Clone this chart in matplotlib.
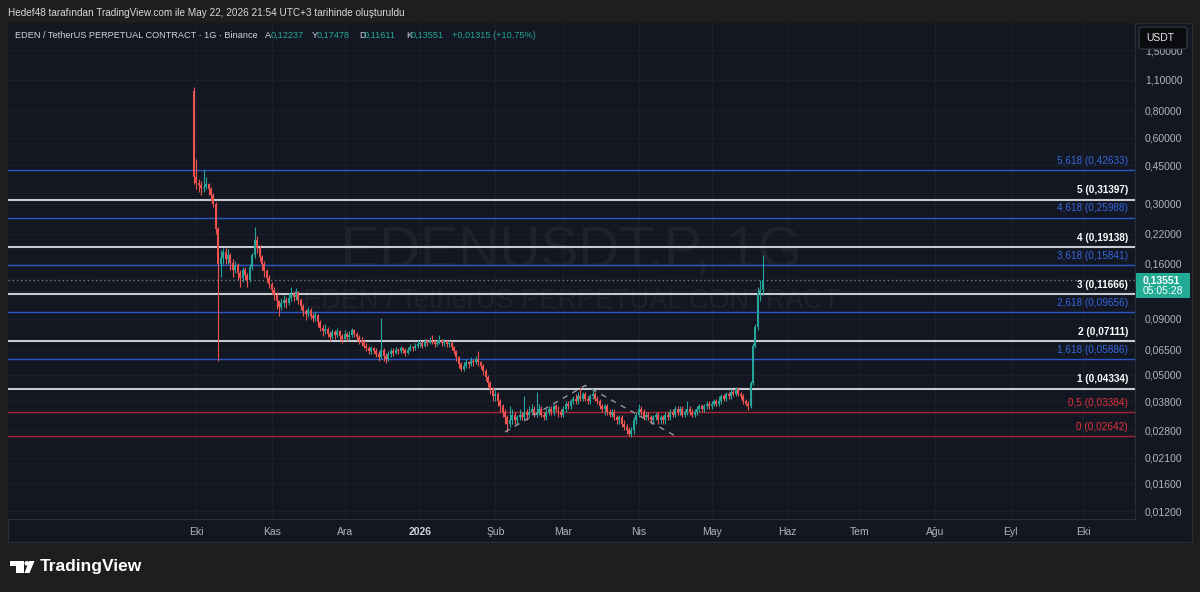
import matplotlib
matplotlib.use('Agg')
import matplotlib.pyplot as plt
import matplotlib.patches as mpatches
from matplotlib.ticker import NullLocator
import numpy as np

plt.rcParams['font.family'] = ['Liberation Sans', 'DejaVu Sans']

W, H = 1200, 592

# daily candles, day 0 = 2025-09-30, last = 2026-05-22 (open = previous close)
first_open = 0.98
closes = [
    0.400,
    # Eki
    0.375, 0.365, 0.355, 0.360, 0.370, 0.350, 0.330, 0.300, 0.230, 0.160, 0.170, 0.182, 0.168, 0.175, 0.162, 0.150,
    0.158, 0.145, 0.138, 0.150, 0.142, 0.135, 0.155, 0.175, 0.205, 0.190, 0.172, 0.160, 0.148, 0.138, 0.130,
    # Kas
    0.122, 0.116, 0.108, 0.102, 0.106, 0.110, 0.106, 0.112, 0.117, 0.113, 0.119, 0.110, 0.103, 0.098, 0.095,
    0.099, 0.093, 0.091, 0.094, 0.087, 0.082, 0.079, 0.081, 0.077, 0.074, 0.078, 0.076, 0.079, 0.075, 0.073,
    # Ara
    0.077, 0.074, 0.076, 0.080, 0.077, 0.074, 0.072, 0.070, 0.068, 0.066, 0.064, 0.066, 0.064, 0.062, 0.060, 0.065,
    0.061, 0.059, 0.062, 0.064, 0.063, 0.065, 0.064, 0.066, 0.065, 0.063, 0.065, 0.067, 0.066, 0.068, 0.069,
    # Oca
    0.070, 0.068, 0.071, 0.070, 0.072, 0.071, 0.069, 0.070, 0.072, 0.070, 0.071, 0.069, 0.070, 0.067, 0.064, 0.060,
    0.056, 0.053, 0.055, 0.057, 0.056, 0.058, 0.057, 0.059, 0.057, 0.055, 0.052, 0.049, 0.046, 0.043, 0.040,
    # Şub
    0.041, 0.038, 0.036, 0.034, 0.032, 0.030, 0.031, 0.033, 0.031, 0.032, 0.033, 0.032, 0.034, 0.033,
    0.034, 0.035, 0.033, 0.034, 0.035, 0.033, 0.032, 0.034, 0.035, 0.034, 0.036, 0.035, 0.034, 0.033,
    # Mar
    0.035, 0.037, 0.036, 0.038, 0.039, 0.038, 0.040, 0.039, 0.041, 0.039, 0.038, 0.040, 0.041, 0.039, 0.038, 0.036,
    0.035, 0.036, 0.034, 0.033, 0.034, 0.032, 0.031, 0.032, 0.030, 0.029, 0.028, 0.027, 0.028, 0.031, 0.033,
    # Nis
    0.035, 0.034, 0.032, 0.033, 0.032, 0.031, 0.032, 0.033, 0.031, 0.032, 0.031, 0.033, 0.032, 0.034, 0.033,
    0.035, 0.034, 0.035, 0.033, 0.034, 0.035, 0.034, 0.033, 0.034, 0.035, 0.036, 0.035, 0.036, 0.037, 0.036,
    # May
    0.037, 0.038, 0.037, 0.038, 0.040, 0.039, 0.041, 0.040, 0.042, 0.041, 0.043,
    0.041, 0.040, 0.038, 0.037, 0.036, 0.046, 0.068, 0.083, 0.118, 0.12237, 0.13551,
]
highs = [
    1.02,
    0.48, 0.39, 0.38, 0.43, 0.40, 0.375, 0.36, 0.335, 0.305, 0.235, 0.185, 0.19, 0.19, 0.188, 0.18, 0.168,
    0.165, 0.162, 0.15, 0.155, 0.155, 0.146, 0.16, 0.18, 0.235, 0.215, 0.195, 0.176, 0.165, 0.152, 0.142,
    0.133, 0.126, 0.119, 0.110, 0.112, 0.115, 0.113, 0.118, 0.125, 0.121, 0.124, 0.121, 0.112, 0.105, 0.100,
    0.102, 0.101, 0.096, 0.098, 0.095, 0.089, 0.084, 0.085, 0.083, 0.079, 0.081, 0.080, 0.082, 0.080, 0.077,
    0.080, 0.078, 0.079, 0.082, 0.081, 0.078, 0.076, 0.074, 0.072, 0.070, 0.068, 0.068, 0.067, 0.066, 0.064, 0.091,
    0.066, 0.063, 0.064, 0.066, 0.066, 0.067, 0.066, 0.068, 0.067, 0.066, 0.067, 0.069, 0.068, 0.070, 0.072,
    0.072, 0.071, 0.073, 0.073, 0.074, 0.076, 0.073, 0.072, 0.076, 0.073, 0.073, 0.072, 0.072, 0.071, 0.068, 0.065,
    0.061, 0.057, 0.057, 0.059, 0.058, 0.060, 0.059, 0.061, 0.064, 0.058, 0.056, 0.053, 0.050, 0.047, 0.044,
    0.043, 0.042, 0.039, 0.037, 0.035, 0.033, 0.036, 0.035, 0.034, 0.033, 0.035, 0.034, 0.040, 0.035,
    0.036, 0.037, 0.036, 0.042, 0.037, 0.036, 0.034, 0.035, 0.036, 0.036, 0.037, 0.037, 0.036, 0.035,
    0.036, 0.038, 0.038, 0.039, 0.040, 0.041, 0.042, 0.044, 0.042, 0.042, 0.040, 0.041, 0.043, 0.042, 0.040, 0.039,
    0.037, 0.037, 0.037, 0.035, 0.035, 0.035, 0.033, 0.033, 0.033, 0.031, 0.030, 0.029, 0.029, 0.032, 0.034,
    0.037, 0.036, 0.035, 0.034, 0.034, 0.033, 0.033, 0.034, 0.034, 0.033, 0.033, 0.034, 0.034, 0.035, 0.035,
    0.036, 0.036, 0.036, 0.036, 0.035, 0.038, 0.036, 0.035, 0.035, 0.036, 0.037, 0.037, 0.037, 0.038, 0.038,
    0.038, 0.039, 0.039, 0.040, 0.041, 0.041, 0.042, 0.042, 0.043, 0.043, 0.044,
    0.044, 0.042, 0.041, 0.039, 0.038, 0.047, 0.070, 0.085, 0.125, 0.135, 0.17478,
]
lows = [
    0.37,
    0.35, 0.34, 0.33, 0.34, 0.35, 0.33, 0.31, 0.29, 0.22, 0.058, 0.14, 0.16, 0.16, 0.16, 0.15, 0.14,
    0.145, 0.135, 0.125, 0.132, 0.135, 0.126, 0.132, 0.15, 0.17, 0.18, 0.165, 0.15, 0.14, 0.132, 0.124,
    0.117, 0.110, 0.100, 0.0925, 0.099, 0.102, 0.101, 0.104, 0.108, 0.108, 0.110, 0.105, 0.099, 0.093, 0.089,
    0.092, 0.090, 0.087, 0.088, 0.083, 0.079, 0.075, 0.077, 0.074, 0.071, 0.073, 0.073, 0.074, 0.072, 0.070,
    0.072, 0.071, 0.072, 0.074, 0.074, 0.071, 0.069, 0.068, 0.066, 0.064, 0.062, 0.062, 0.062, 0.060, 0.058, 0.059,
    0.058, 0.0565, 0.058, 0.060, 0.061, 0.062, 0.062, 0.063, 0.063, 0.061, 0.062, 0.064, 0.064, 0.065, 0.066,
    0.067, 0.066, 0.067, 0.068, 0.069, 0.069, 0.067, 0.068, 0.069, 0.068, 0.068, 0.067, 0.067, 0.065, 0.062, 0.058,
    0.054, 0.052, 0.052, 0.054, 0.054, 0.055, 0.055, 0.056, 0.055, 0.053, 0.050, 0.047, 0.044, 0.041, 0.038,
    0.038, 0.036, 0.034, 0.032, 0.030, 0.0275, 0.029, 0.030, 0.030, 0.030, 0.031, 0.031, 0.031, 0.031,
    0.032, 0.033, 0.032, 0.032, 0.033, 0.032, 0.031, 0.031, 0.033, 0.033, 0.033, 0.034, 0.032, 0.032,
    0.032, 0.034, 0.035, 0.035, 0.037, 0.037, 0.037, 0.038, 0.038, 0.038, 0.037, 0.037, 0.039, 0.038, 0.037, 0.035,
    0.034, 0.033, 0.033, 0.032, 0.032, 0.031, 0.030, 0.030, 0.029, 0.028, 0.027, 0.0263, 0.0262, 0.027, 0.030,
    0.032, 0.033, 0.031, 0.031, 0.031, 0.030, 0.030, 0.031, 0.030, 0.030, 0.030, 0.030, 0.031, 0.031, 0.032,
    0.032, 0.033, 0.033, 0.032, 0.032, 0.033, 0.033, 0.032, 0.032, 0.033, 0.034, 0.034, 0.034, 0.035, 0.035,
    0.035, 0.036, 0.036, 0.036, 0.037, 0.038, 0.038, 0.039, 0.039, 0.040, 0.040,
    0.040, 0.039, 0.037, 0.036, 0.0345, 0.0355, 0.045, 0.066, 0.080, 0.108, 0.11611,
]

# fibonacci extension levels
fib_names = ['0', '0,5', '1', '1,618', '2', '2,618', '3', '3,618', '4', '4,618', '5', '5,618']
fib_prices = [0.02642, 0.03384, 0.04334, 0.05886, 0.07111, 0.09656, 0.11666, 0.15841, 0.19138,
              0.25988, 0.31397, 0.42633]
fib_kind = ['r', 'r', 'w', 'b', 'w', 'b', 'w', 'b', 'w', 'b', 'w', 'b']

# dashed pattern drawing (day index, price)
zig_days = [128, 161, 198]
zig_prices = [0.0275, 0.0448, 0.0264]

# axes ticks
month_days = [1, 32, 62, 93, 124, 152, 183, 213, 244, 274, 305, 336, 366]
month_names = ['Eki', 'Kas', 'Ara', '2026', 'Şub', 'Mar', 'Nis', 'May', 'Haz', 'Tem', 'Ağu', 'Eyl', 'Eki']
price_ticks = [0.012, 0.016, 0.021, 0.028, 0.038, 0.05, 0.065, 0.09, 0.12, 0.16, 0.22, 0.30, 0.45, 0.60, 0.80, 1.10, 1.50]

last_price = 0.13551

BG = '#131722'
OUTER = '#1e1e1e'
GRID = '#1b1f2a'
TXT = '#b2b5be'
UP = '#26a69a'
DN = '#ef5350'
WM = '#1e222d'


def fx(x):
    return x / W


def fy(y):
    return 1 - y / H


fig = plt.figure(figsize=(12, 5.92), dpi=100, facecolor=OUTER)
panel = mpatches.Rectangle((fx(8), fy(542)), (1192 - 8) / W, (542 - 23) / H,
                           transform=fig.transFigure, facecolor=BG,
                           edgecolor='#2a2e39', lw=0.8, zorder=-5)
fig.patches.append(panel)

ax = fig.add_axes([fx(8), fy(519), 1127 / W, 496 / H])
ax.set_zorder(1)
ax.set_facecolor(BG)
ax.set_yscale('log')
ax.set_ylim(0.01104, 1.999)
ax.set_xlim(-76.5, 387.2)

closes = np.array(closes)
highs = np.array(highs)
lows = np.array(lows)
opens = np.concatenate([[first_open], closes[:-1]])
days = np.arange(len(closes))
cols = [UP if c >= o else DN for o, c in zip(opens, closes)]
body_lo = np.minimum(opens, closes)
body_hi = np.maximum(opens, closes)

ax.vlines(days, lows, highs, colors=cols, lw=0.8, zorder=4)
ax.bar(days, body_hi - body_lo, bottom=body_lo, width=0.82, color=cols, linewidth=0, zorder=5)

# fib lines and labels
line_col = {'r': '#a3252f', 'w': '#c9cbd1', 'b': '#2a56c6'}
lab_col = {'r': '#e0323f', 'w': '#ffffff', 'b': '#3566e0'}
line_w = {'r': 1.0, 'w': 1.5, 'b': 1.0}
for name, p, k in zip(fib_names, fib_prices, fib_kind):
    ax.axhline(p, color=line_col[k], lw=line_w[k], zorder=3)
    ax.annotate('%s (%s)' % (name, ('%.5f' % p).replace('.', ',')), xy=(0.9938, p),
                xycoords=('axes fraction', 'data'), xytext=(0, 3), textcoords='offset points',
                ha='right', va='bottom', fontsize=7.2, color=lab_col[k],
                fontweight='bold' if k == 'w' else 'normal', zorder=6)

ax.plot(zig_days, zig_prices, color='#9598a1', lw=1.0, dashes=(4, 4), zorder=6)

# last price dotted line
ax.axhline(last_price, color='#787b86', lw=1.0, ls=(0, (1, 2)), zorder=3)

# watermark
ax.text(0.5, 0.538, 'EDENUSDT.P, 1G', transform=ax.transAxes, ha='center', va='center',
        fontsize=41, color=WM, zorder=1)
ax.text(0.5, 0.4395, 'EDEN / TetherUS PERPETUAL CONTRACT', transform=ax.transAxes, ha='center',
        va='center', fontsize=19.5, color=WM, zorder=1)

# axes styling
for s in ['left', 'top']:
    ax.spines[s].set_visible(False)
ax.spines['right'].set_color('#2a2e39')
ax.spines['bottom'].set_color('#2a2e39')
ax.yaxis.tick_right()
ax.yaxis.set_minor_locator(NullLocator())
ax.set_yticks(price_ticks)
ax.set_yticklabels([('%.5f' % v).replace('.', ',') for v in price_ticks])
ax.tick_params(axis='y', length=0, pad=7, labelsize=7.5, labelcolor=TXT)
ax.set_xticks(month_days)
ax.set_xticklabels(month_names)
ax.tick_params(axis='x', length=0, pad=6, labelsize=7.5, labelcolor=TXT)
for t in ax.get_xticklabels():
    if t.get_text() == '2026':
        t.set_fontweight('bold')
        t.set_color('#d1d4dc')
ax.grid(True, color=GRID, lw=0.8, zorder=0)
ax.set_axisbelow(True)

# header texts
fig.text(fx(8), fy(13), 'Hedef48 tarafından TradingView.com ile May 22, 2026 21:54 UTC+3 tarihinde oluşturuldu',
         ha='left', va='center', fontsize=7.2, color='#d9d9d9')
legend_parts = [
    (15, 'EDEN / TetherUS PERPETUAL CONTRACT · 1G · Binance', '#d1d4dc'),
    (265, 'A', '#d1d4dc'), (271, '0,12237', UP),
    (312, 'Y', '#d1d4dc'), (317, '0,17478', UP),
    (359, 'D', '#d1d4dc'), (364, '0,11611', UP),
    (406, 'K', '#d1d4dc'), (411, '0,13551', UP),
    (452, '+0,01315 (+10,75%)', UP),
]
for x, s, c in legend_parts:
    fig.text(fx(x), fy(35), s, ha='left', va='center', fontsize=6.6, color=c, zorder=3)

# last price tag on price axis
fig.patches.append(mpatches.Rectangle((fx(1136), fy(298)), 54 / W, 25 / H, transform=fig.transFigure,
                                      facecolor='#22ab94', edgecolor='none', zorder=10))
fig.text(fx(1143), fy(280), '0,13551', ha='left', va='center', fontsize=7.5, color='white',
         fontweight='bold', zorder=11)
fig.text(fx(1143), fy(291), '05:05:28', ha='left', va='center', fontsize=7.5, color='white', zorder=11)

# USDT button
fig.patches.append(mpatches.FancyBboxPatch((fx(1139), fy(49)), 48 / W, 22 / H,
                                           boxstyle='round,pad=0,rounding_size=0.004',
                                           transform=fig.transFigure, facecolor='#0b0c10',
                                           edgecolor='#3a3d45', lw=0.8, zorder=10))
fig.text(fx(1146), fy(38), 'USDT', ha='left', va='center', fontsize=7.5, color='#e6e6e6', zorder=11)

# TradingView logo
logo_l = [(10, 561), (24, 561), (24, 573), (16, 573), (16, 565.5), (10, 565.5)]
fig.patches.append(mpatches.Polygon([(fx(x), fy(y)) for x, y in logo_l], closed=True,
                                    transform=fig.transFigure, facecolor='white', edgecolor='none'))
fig.patches.append(mpatches.Ellipse((fx(26.8), fy(563.3)), 4.6 / W, 4.6 / H,
                                    transform=fig.transFigure, facecolor='white', edgecolor='none'))
logo_r = [(29, 561), (34.5, 561), (29.5, 573), (24.5, 573)]
fig.patches.append(mpatches.Polygon([(fx(x), fy(y)) for x, y in logo_r], closed=True,
                                    transform=fig.transFigure, facecolor='white', edgecolor='none'))
fig.text(fx(40), fy(567), 'TradingView', ha='left', va='center', fontsize=12.5, color='white',
         fontweight='bold')

fig.savefig('out.png', dpi=100, facecolor=OUTER)
